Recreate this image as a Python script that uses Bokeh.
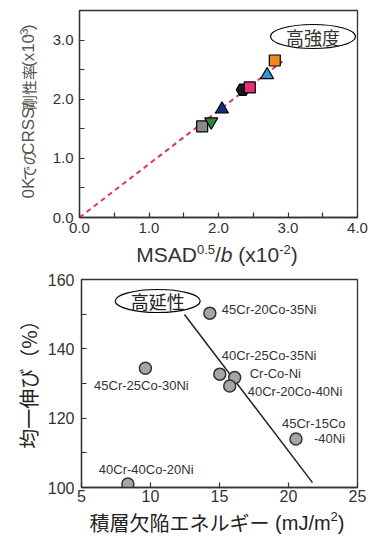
from bokeh.plotting import figure
from bokeh.layouts import column, row
from bokeh.models import Range1d, FixedTicker, Label, PrintfTickFormatter
from bokeh.embed import file_html
from bokeh.resources import INLINE

# ---------------- data: top chart ----------------
msad = [1.765, 1.895, 2.05, 2.35, 2.45, 2.70, 2.81]
crss = [1.54, 1.62, 1.83, 2.16, 2.20, 2.41, 2.655]
marker_types = ["square", "inverted_triangle", "triangle", "hex", "square", "triangle", "square"]
marker_colors = ["#8a8a8a", "#2a8a3a", "#1d2a80", "#1a1a1a", "#e8307a", "#2f9ad6", "#f08a1c"]
marker_sizes = [11, 13, 13, 13, 11, 13, 11]
trend_top_x = [0.0, 2.92]
trend_top_y = [0.0, 2.64]
top_xticks = [0, 1, 2, 3, 4]
top_xminor = [0.5, 1.5, 2.5, 3.5]
top_yticks = [0, 1, 2, 3]
top_yminor = [0.5, 1.5, 2.5]

# ---------------- data: bottom chart ----------------
alloys = ["45Cr-20Co-35Ni", "45Cr-25Co-30Ni", "40Cr-25Co-35Ni", "Cr-Co-Ni",
          "40Cr-20Co-40Ni", "45Cr-15Co\n-40Ni", "40Cr-40Co-20Ni"]
sfe = [14.30, 9.63, 15.02, 16.10, 15.74, 20.54, 8.36]
elong = [150.3, 134.4, 132.7, 131.7, 129.3, 114.0, 101.0]
trend_bot_x = [12.46, 21.74]
trend_bot_y = [149.9, 101.4]
bot_xticks = [5, 10, 15, 20, 25]
bot_yticks = [100, 120, 140, 160]
bot_yminor = [110, 130, 150]

# ---------------- layout / style ----------------
FONT = "Liberation Sans"
CJK = "Noto Sans CJK JP"
FRAME = "#333333"
# em advance widths (Liberation Sans) used to chain title pieces
EM = {"MSAD": 2.889, "0.5": 1.390, "/": 0.278, "b": 0.556, "(x10": 1.945, "-2": 0.889,
      "-3": 0.889, ")": 0.333, "0K": 1.223, "CRSS/": 3.056, "(mJ/m": 2.777, "2": 0.556, " ": 0.278}

# label offsets (screen px) for each alloy line: (dx, dy, align)
label_offsets = [[(12, 4, "left")], [(-4, -17, "center")], [(2, 19, "left")], [(15, 4, "left")],
                 [(18, -6, "left")], [(-14, 15, "left"), (18, 0, "left")], [(-29, 15, "left")]]


def t2d(px, py):
    return ((px - 79) * 4 / 278, (217 - py) * 3.5 / 207)


def b2d(px, py):
    return (5 + (px - 79) * 20 / 278, 100 + (492 - py) * 60 / 208)


def style(p, xt, xm, yt, ym, fs):
    p.outline_line_color = FRAME
    p.outline_line_width = 1.3
    p.xgrid.visible = False
    p.ygrid.visible = False
    p.background_fill_color = "white"
    p.border_fill_color = "white"
    for ax, t, m in ((p.xaxis[0], xt, xm), (p.yaxis[0], yt, ym)):
        ax.ticker = FixedTicker(ticks=t, minor_ticks=m)
        ax.axis_line_color = FRAME
        ax.axis_line_width = 1.3
        ax.major_tick_in = 5
        ax.major_tick_out = 0
        ax.minor_tick_in = 5
        ax.minor_tick_out = 0
        ax.major_tick_line_color = FRAME
        ax.minor_tick_line_color = FRAME
        ax.major_tick_line_width = 1.2
        ax.minor_tick_line_width = 1.2
        ax.major_label_text_font = FONT
        ax.major_label_text_font_size = fs
        ax.major_label_text_color = "#333333"


def lab(p, x, y, text, size, font=FONT, color="#333333", align="left", baseline="middle",
        angle=0, style="normal", dx=0, dy=0):
    p.add_layout(Label(x=x, y=y, text=text, text_font=font, text_font_size=f"{size}px",
                       text_color=color, text_align=align, text_baseline=baseline,
                       angle=angle, angle_units="deg", text_font_style=style,
                       x_offset=dx, y_offset=dy))


def strip(w, h):
    s = figure(width=w, height=h, x_range=Range1d(0, w), y_range=Range1d(0, h),
               x_axis_type=None, y_axis_type=None, output_backend="svg",
               toolbar_location=None, title=None, min_border=0)
    s.outline_line_color = None
    s.background_fill_color = "white"
    s.border_fill_color = "white"
    return s


# ================= top figure (page y 0..240) =================
p1 = figure(width=334, height=240, x_range=Range1d(0, 4), y_range=Range1d(0, 3.5),
            output_backend="svg", toolbar_location=None, title=None,
            min_border_left=35, min_border_right=21, min_border_top=10, min_border_bottom=23)
style(p1, top_xticks, top_xminor, top_yticks, top_yminor, "15px")
p1.xaxis[0].formatter = PrintfTickFormatter(format="%.1f")
p1.yaxis[0].formatter = PrintfTickFormatter(format="%.1f")
p1.xaxis[0].major_label_standoff = 5
p1.yaxis[0].major_label_standoff = 6

p1.line(trend_top_x, trend_top_y, line_color="#e0306e", line_width=2, line_dash="5 4")
for xi, yi, mk, c, s in zip(msad, crss, marker_types, marker_colors, marker_sizes):
    p1.scatter([xi], [yi], marker=mk, size=s, fill_color=c, line_color="black", line_width=1.2)

ex, ey = t2d(312.5, 36)
p1.ellipse(x=[ex], y=[ey], width=85, height=24, width_units="screen", height_units="screen",
           fill_color="white", line_color="black", line_width=1.2)
lab(p1, ex, ey, "高強度", 18, font=CJK, color="#333333", align="center")

# y-axis title strip (page x 0..44, y 0..240): 0KでのCRSS/剛性率 (x10^-3)
ys1 = strip(44, 240)
GRAY = "#555555"
yp = 218.0
for txt, size, font, xc in [("0K", 17, FONT, 28), ("での", 15, CJK, 28), ("CRSS/", 17, FONT, 28),
                            ("剛性率", 15, CJK, 28), ("(x10", 17, FONT, 28), ("-3", 11, FONT, 23),
                            (")", 17, FONT, 28)]:
    if txt == "(x10":
        yp -= EM[" "] * 17
    lab(ys1, xc, 240 - yp, txt, size, font=font, color=GRAY, angle=90)
    yp -= (len(txt) * size) if font == CJK else EM[txt] * size

# x-axis title strip (page y 240..270): MSAD^0.5/b (x10^-2)
xs1 = strip(378, 30)
pieces = [("MSAD", 21, False, "normal"), ("0.5", 13, True, "normal"), ("/", 21, False, "normal"),
          ("b", 21, False, "italic"), ("(x10", 21, False, "normal"), ("-2", 13, True, "normal"),
          (")", 21, False, "normal")]
total = sum(s * EM[t] for t, s, _, _ in pieces) + 21 * EM[" "]
cx = 216.5 - total / 2
for txt, s, sup, st in pieces:
    if txt == "(x10":
        cx += 21 * EM[" "]
    lab(xs1, cx, 270 - (248.5 if sup else 254), txt, s, style=st)
    cx += s * EM[txt]

# ================= bottom figure (page y 270..507) =================
p2 = figure(width=334, height=237, x_range=Range1d(5, 25), y_range=Range1d(100, 160),
            output_backend="svg", toolbar_location=None, title=None,
            min_border_left=35, min_border_right=21, min_border_top=9, min_border_bottom=20)
style(p2, bot_xticks, [], bot_yticks, bot_yminor, "16px")
p2.xaxis[0].major_label_standoff = 2
p2.yaxis[0].major_label_standoff = 7

p2.line(trend_bot_x, trend_bot_y, line_color="#222222", line_width=1.5)
p2.scatter(sfe, elong, marker="circle", size=12, fill_color="#a6a6a6",
           line_color="#333333", line_width=1.5)

for name, xi, yi, offs in zip(alloys, sfe, elong, label_offsets):
    for line_txt, (dx, dy, al) in zip(name.split("\n"), offs):
        lab(p2, xi, yi, line_txt, 13, align=al, dx=dx, dy=dy)

ex, ey = b2d(155.8, 305.5)
p2.ellipse(x=[ex], y=[ey], width=85, height=23, width_units="screen", height_units="screen",
           fill_color="white", line_color="black", line_width=1.2)
lab(p2, ex, ey, "高延性", 18, font=CJK, color="#222222", align="center")

# y-axis title strip (page y 270..507)
ys2 = strip(44, 237)
lab(ys2, 28, 507 - 384, "均一伸び（%）", 20, font=CJK, color="#222222", align="center", angle=90)

# x-axis title strip (page y 507..537): 積層欠陥エネルギー (mJ/m^2)
xs2 = strip(378, 30)
cj = 9 * 20
wtot = cj + 20 * (EM[" "] + EM["(mJ/m"] + EM[")"]) + 13 * EM["2"]
sx = 216.5 - wtot / 2
mid = 537 - 522
lab(xs2, sx, mid, "積層欠陥エネルギー", 20, font=CJK, color="#222222")
sx += cj + 20 * EM[" "]
lab(xs2, sx, mid, "(mJ/m", 20, color="#222222")
sx += 20 * EM["(mJ/m"]
lab(xs2, sx, 537 - 516, "2", 13, color="#222222")
sx += 13 * EM["2"]
lab(xs2, sx, mid, ")", 20, color="#222222")

layout = column(row(ys1, p1, spacing=0), xs1, row(ys2, p2, spacing=0), xs2, spacing=0)
open("out.html", "w").write(file_html(layout, INLINE))
